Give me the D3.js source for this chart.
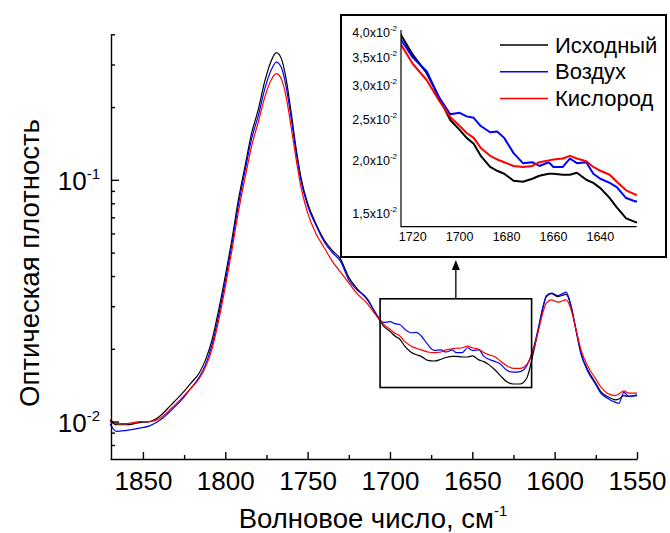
<!DOCTYPE html>
<html>
<head>
<meta charset="utf-8">
<script src="https://cdn.jsdelivr.net/npm/d3@7/dist/d3.min.js"></script>
<style>
  html, body { margin: 0; padding: 0; background: #fff; }
  svg { display: block; font-family: Arial, "Liberation Sans", sans-serif; }
</style>
</head>
<body>
<svg id="chart" width="670" height="533"></svg>
<script>
// Wavenumber grid, cm^-1
const wavenumber = [1870,1866,1860,1852,1846,1840,1833,1826,1821,1816,1812,1808,1804,1800,1796,1792,1788,1784,1780,1776,1772,1769,1766,1763,1760,1757,1754,1750,1745,1740,1735,1730,1725,1720,1714,1709,1704,1700,1697,1694,1691,1687,1684,1681,1677,1673,1669,1666,1662,1660,1656,1653,1650,1646,1643,1640,1636,1633,1629,1625,1621,1617,1613,1610,1607,1605,1602,1598,1593,1590,1587,1584,1580,1575,1572,1568,1563,1561,1558,1555,1550];

// Optical density, initial sample
const initial = [0.0101,0.0097,0.0097,0.0099,0.0100,0.0105,0.0117,0.0131,0.0144,0.0158,0.0180,0.0218,0.0290,0.0400,0.0565,0.0830,0.1140,0.1560,0.1950,0.2560,0.3120,0.3360,0.3180,0.2600,0.1900,0.1350,0.1020,0.0800,0.0660,0.0565,0.0510,0.0470,0.0395,0.0355,0.0321,0.0283,0.0249,0.0236,0.0226,0.0219,0.0205,0.0193,0.0189,0.0186,0.0179,0.0178,0.0181,0.0184,0.0186,0.0186,0.0185,0.0185,0.0187,0.0180,0.0177,0.0172,0.0163,0.0155,0.0146,0.0143,0.0143,0.0151,0.0192,0.0239,0.0299,0.0329,0.0338,0.0329,0.0336,0.0299,0.0239,0.0192,0.0164,0.0144,0.0133,0.0127,0.0123,0.0124,0.0128,0.0127,0.0128];

// Optical density after exposure to air
const air = [0.0098,0.0091,0.0092,0.0094,0.0096,0.0101,0.0111,0.0124,0.0137,0.0152,0.0172,0.0208,0.0275,0.0380,0.0540,0.0790,0.1090,0.1480,0.1840,0.2380,0.2860,0.3070,0.2920,0.2420,0.1800,0.1300,0.0990,0.0780,0.0650,0.0555,0.0500,0.0460,0.0385,0.0350,0.0324,0.0283,0.0257,0.0259,0.0254,0.0252,0.0241,0.0233,0.0234,0.0226,0.0208,0.0197,0.0198,0.0194,0.0198,0.0193,0.0193,0.0202,0.0197,0.0198,0.0186,0.0181,0.0177,0.0173,0.0163,0.0160,0.0161,0.0170,0.0200,0.0242,0.0300,0.0332,0.0340,0.0332,0.0343,0.0300,0.0238,0.0190,0.0162,0.0142,0.0131,0.0125,0.0120,0.0119,0.0132,0.0127,0.0129];

// Optical density after exposure to oxygen
const oxygen = [0.0102,0.0098,0.0098,0.0100,0.0100,0.0103,0.0113,0.0126,0.0137,0.0150,0.0168,0.0200,0.0262,0.0360,0.0510,0.0740,0.1020,0.1380,0.1730,0.2200,0.2600,0.2750,0.2620,0.2200,0.1650,0.1220,0.0930,0.0730,0.0600,0.0525,0.0460,0.0415,0.0375,0.0338,0.0309,0.0278,0.0253,0.0241,0.0232,0.0226,0.0214,0.0205,0.0201,0.0198,0.0194,0.0193,0.0194,0.0198,0.0200,0.0201,0.0202,0.0205,0.0202,0.0199,0.0193,0.0189,0.0185,0.0178,0.0170,0.0166,0.0166,0.0172,0.0198,0.0235,0.0285,0.0310,0.0319,0.0312,0.0319,0.0290,0.0240,0.0198,0.0170,0.0150,0.0139,0.0131,0.0128,0.0130,0.0134,0.0131,0.0131];

const seriesNames = ["Исходный", "Воздух", "Кислород"];
const seriesColors = ["#000000", "#0000ff", "#ff0000"];

// Main axis ticks
const xMajorTicks = [1850, 1800, 1750, 1700, 1650, 1600, 1550];
const xMinorTicks = [1825, 1775, 1725, 1675, 1625, 1575];
const yMajorTicks = [0.01, 0.1];
const yMajorExp = ["-2", "-1"];
const yMinorTicks = [0.008, 0.009, 0.02, 0.03, 0.04, 0.05, 0.06, 0.07, 0.08, 0.09, 0.2, 0.3, 0.4];

// Inset ticks
const insetXTicks = [1720, 1700, 1680, 1660, 1640];
const insetYTicks = [0.015, 0.020, 0.025, 0.030, 0.035, 0.040];
const insetYLabels = ["1,5x10", "2,0x10", "2,5x10", "3,0x10", "3,5x10", "4,0x10"];

// Highlighted region on the main plot (wavenumber span, optical density span)
const zoomWave = [1706, 1614];
const zoomOD = [0.01383, 0.0322];

const svg = d3.select("#chart");

// ---------- main plot ----------
const x = d3.scaleLinear().domain([1870, 1550]).range([110, 637]);
const y = d3.scaleLog().domain([0.007, 0.4]).range([459, 34.3]);

const series = [initial, air, oxygen].map((vals, i) => ({
  name: seriesNames[i],
  color: seriesColors[i],
  points: wavenumber.map((w, j) => ({ w, v: vals[j] }))
}));

const mainLine = d3.line().x(d => x(d.w)).y(d => y(d.v)).curve(d3.curveMonotoneX);

// draw order: black, blue, red (red on top)
svg.append("g").selectAll("path").data(series).join("path")
  .attr("d", d => mainLine(d.points))
  .attr("fill", "none")
  .attr("stroke", d => d.color)
  .attr("stroke-width", 1.2);

// x axis
const xAxisG = svg.append("g").attr("transform", "translate(0,459)");
xAxisG.call(d3.axisBottom(x).tickValues(xMajorTicks).tickSize(-7).tickSizeOuter(0).tickPadding(12.5).tickFormat(d3.format("d")));
xAxisG.append("g").call(d3.axisBottom(x).tickValues(xMinorTicks).tickSize(-4).tickSizeOuter(0).tickFormat(""))
  .select(".domain").remove();
xAxisG.selectAll("text").attr("font-size", 26).attr("fill", "#000").attr("font-family", "Arial, 'Liberation Sans', sans-serif");
xAxisG.selectAll("line, path").attr("stroke", "#000").attr("stroke-width", 1.4);

// y axis
const yAxisG = svg.append("g").attr("transform", "translate(111,0)");
yAxisG.call(d3.axisLeft(y).tickValues(yMajorTicks).tickSize(-8).tickSizeOuter(0).tickFormat(""));
yAxisG.append("g").call(d3.axisLeft(y).tickValues(yMinorTicks).tickSize(-4).tickSizeOuter(0).tickFormat(""))
  .select(".domain").remove();
yAxisG.selectAll("line, path").attr("stroke", "#000").attr("stroke-width", 1.4);

yMajorTicks.forEach((v, i) => {
  const t = svg.append("text")
    .attr("x", 100).attr("y", y(v) + 10)
    .attr("text-anchor", "end")
    .attr("font-size", 26).attr("fill", "#000");
  t.append("tspan").text("10");
  t.append("tspan").attr("dy", -11).attr("font-size", 15).text(yMajorExp[i]);
});

// axis titles
svg.append("text")
  .attr("transform", "translate(39,263) rotate(-90)")
  .attr("text-anchor", "middle")
  .attr("font-size", 27.5).attr("fill", "#000")
  .text("Оптическая плотность");

const xt = svg.append("text")
  .attr("x", 373).attr("y", 528)
  .attr("text-anchor", "middle")
  .attr("font-size", 27.5).attr("fill", "#000");
xt.append("tspan").text("Волновое число, см");
xt.append("tspan").attr("dy", -12).attr("font-size", 15).text("-1");

// highlighted region and pointer to the inset
const bx0 = x(zoomWave[0]), bx1 = x(zoomWave[1]);
const by0 = y(zoomOD[1]), by1 = y(zoomOD[0]);
svg.append("rect")
  .attr("x", bx0).attr("y", by0)
  .attr("width", bx1 - bx0).attr("height", by1 - by0)
  .attr("fill", "none").attr("stroke", "#000").attr("stroke-width", 1.6);

const ax = (bx0 + bx1) / 2;
svg.append("line")
  .attr("x1", ax).attr("x2", ax).attr("y1", by0).attr("y2", 268)
  .attr("stroke", "#000").attr("stroke-width", 1.3);
svg.append("path")
  .attr("d", `M${ax},260 L${ax - 4},270 L${ax + 4},270 Z`)
  .attr("fill", "#000");

// ---------- inset ----------
const inset = svg.append("g");
inset.append("rect")
  .attr("x", 341).attr("y", 15).attr("width", 325).attr("height", 242)
  .attr("fill", "#fff").attr("stroke", "#000").attr("stroke-width", 2);

const ix = d3.scaleLinear().domain([1725, 1624.5]).range([401, 636.7]);
const iy = d3.scaleLog().domain([0.01395, 0.0406]).range([226.7, 30]);

svg.append("defs").append("clipPath").attr("id", "insetClip")
  .append("rect").attr("x", 401).attr("y", 30).attr("width", 236).attr("height", 197);

const insetLine = d3.line().x(d => ix(d.w)).y(d => iy(d.v)).curve(d3.curveLinear);
inset.append("g").attr("clip-path", "url(#insetClip)")
  .selectAll("path").data(series).join("path")
  .attr("d", d => insetLine(d.points.filter(p => p.w <= 1730 && p.w >= 1620)))
  .attr("fill", "none")
  .attr("stroke", d => d.color)
  .attr("stroke-width", 2)
  .attr("stroke-linejoin", "round");

// inset axes
inset.append("path")
  .attr("d", `M401,30 V226.7 H636.7`)
  .attr("fill", "none").attr("stroke", "#000").attr("stroke-width", 1.2);

inset.selectAll(".ixl").data(insetXTicks).join("text")
  .attr("x", d => ix(d)).attr("y", 241)
  .attr("text-anchor", "middle")
  .attr("font-size", 12.5).attr("fill", "#000")
  .text(d => d);

insetYTicks.forEach((v, i) => {
  const t = inset.append("text")
    .attr("x", 397).attr("y", iy(v) + 4.5)
    .attr("text-anchor", "end")
    .attr("font-size", 12.5).attr("fill", "#000");
  t.append("tspan").text(insetYLabels[i]);
  t.append("tspan").attr("dy", -6).attr("font-size", 8).text("-2");
});

// legend
const legend = inset.append("g");
series.forEach((s, i) => {
  const ly = 45 + i * 26.7;
  legend.append("line")
    .attr("x1", 500).attr("x2", 548).attr("y1", ly).attr("y2", ly)
    .attr("stroke", s.color).attr("stroke-width", 1.5);
  legend.append("text")
    .attr("x", 555).attr("y", ly + 7.5)
    .attr("font-size", 22).attr("fill", "#000")
    .text(s.name);
});
</script>
</body>
</html>
